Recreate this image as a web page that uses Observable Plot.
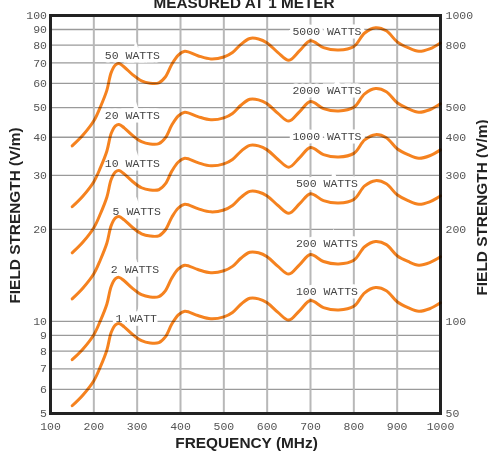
<!DOCTYPE html>
<html>
<head>
<meta charset="utf-8">
<script src="https://cdn.jsdelivr.net/npm/d3@7"></script>
<script src="https://cdn.jsdelivr.net/npm/@observablehq/plot@0.6"></script>
<style>
  html, body { margin: 0; padding: 0; background: #fff; overflow: hidden; }
</style>
</head>
<body>
<div id="chart"></div>
<script>
// Frequencies (MHz) at which curve values were read
const freqs = [150,175,200,215,230,240,250,258,270,290,310,330,350,365,380,395,410,440,470,500,520,540,560,580,600,625,650,675,700,730,765,800,825,850,875,900,925,950,975,1000];

// Field strength (V/m, left-axis scale) for each curve
const w1  = [5.30,5.75,6.40,7.10,8.05,9.20,9.75,9.85,9.60,9.05,8.65,8.50,8.52,8.90,9.80,10.50,10.80,10.45,10.20,10.35,10.70,11.40,11.90,11.85,11.50,10.70,10.10,10.85,11.70,11.10,10.90,11.20,12.40,12.90,12.60,11.60,11.10,10.80,11.00,11.50];
const w2  = [7.50,8.13,9.05,10.04,11.38,13.01,13.79,13.93,13.58,12.80,12.23,12.02,12.05,12.59,13.86,14.85,15.27,14.78,14.43,14.64,15.13,16.12,16.83,16.76,16.26,15.13,14.28,15.34,16.55,15.70,15.41,15.84,17.54,18.24,17.82,16.40,15.70,15.27,15.56,16.26];
const w5  = [11.85,12.86,14.31,15.88,18.00,20.57,21.80,22.03,21.47,20.24,19.34,19.01,19.05,19.90,21.91,23.48,24.15,23.37,22.81,23.14,23.93,25.49,26.61,26.50,25.72,23.93,22.58,24.26,26.16,24.82,24.37,25.04,27.73,28.85,28.17,25.94,24.82,24.15,24.60,25.72];
const w10 = [16.76,18.18,20.24,22.45,25.46,29.09,30.83,31.15,30.36,28.62,27.35,26.88,26.94,28.14,30.99,33.20,34.15,33.05,32.26,32.73,33.84,36.05,37.63,37.47,36.37,33.84,31.94,34.31,37.00,35.10,34.47,35.42,39.21,40.79,39.84,36.68,35.10,34.15,34.79,36.37];
const w20 = [23.70,25.71,28.62,31.75,36.00,41.14,43.60,44.05,42.93,40.47,38.68,38.01,38.10,39.80,43.83,46.96,48.30,46.73,45.62,46.29,47.85,50.98,53.22,52.99,51.43,47.85,45.17,48.52,52.32,49.64,48.75,50.09,55.45,57.69,56.35,51.88,49.64,48.30,49.19,51.43];
const w50 = [37.48,40.66,45.26,50.20,56.92,65.05,68.94,69.65,67.88,63.99,61.17,60.10,60.25,62.93,69.30,74.25,76.37,73.89,72.13,73.19,75.66,80.61,84.15,83.79,81.32,75.66,71.42,76.72,82.73,78.49,77.08,79.20,87.68,91.22,89.10,82.02,78.49,76.37,77.78,81.32];

const seriesKeys = ["1/100","2/200","5/500","10/1000","20/2000","50/5000"];
const seriesValues = [w1, w2, w5, w10, w20, w50];

// Curve labels (left-axis power on the left, right-axis power on the right)
const leftLabels  = ["50 WATTS","20 WATTS","10 WATTS","5 WATTS","2 WATTS","1 WATT"];
const leftLabelX  = [289, 289, 289, 299, 295, 298];
const leftLabelY  = [74.3, 47.2, 32.8, 22.9, 14.83, 10.26];
const rightLabels = ["5000 WATTS","2000 WATTS","1000 WATTS","500 WATTS","200 WATTS","100 WATTS"];
const rightLabelX = [738, 738, 738, 738, 738, 738];
const rightLabelY = [88.7, 57.1, 40.2, 28.2, 18.03, 12.51];

// Axis ticks
const xTicks = [100,200,300,400,500,600,700,800,900,1000];
const yTicksLeft = [5,6,7,8,9,10,20,30,40,50,60,70,80,90,100];
const yTicksRight = [50,100,200,300,400,500,800,1000];   // right axis = left axis x 10
const gridY = [6,7,8,9,10,20,30,40,50,60,70,80,90];
const gridX = [200,300,400,500,600,700,800,900];

const titleText = "MEASURED AT 1 METER";
const xLabel = "FREQUENCY (MHz)";
const yLabel = "FIELD STRENGTH (V/m)";

const rows = [];
seriesValues.forEach((vals, i) => vals.forEach((v, j) => rows.push({f: freqs[j], v, s: seriesKeys[i]})));
const labelsL = leftLabels.map((t, i) => ({t, x: leftLabelX[i], y: leftLabelY[i]}));
const labelsR = rightLabels.map((t, i) => ({t, x: rightLabelX[i], y: rightLabelY[i]}));

const mono = "'Liberation Mono', 'DejaVu Sans Mono', monospace";
const sans = "'Liberation Sans', Arial, sans-serif";

const chart = Plot.plot({
  width: 488,
  height: 453,
  marginTop: 15,
  marginRight: 48,
  marginBottom: 40,
  marginLeft: 50,
  style: {fontFamily: mono, fontSize: "11.5px", color: "#555", background: "#fff", overflow: "visible"},
  x: {domain: [100, 1000], axis: null},
  y: {type: "log", domain: [5, 100], axis: null},
  marks: [
    Plot.ruleY(gridY, {stroke: "#9a9a9a", strokeWidth: 1.3}),
    Plot.ruleX(gridX, {stroke: "#b8b8b8", strokeWidth: 2}),
    Plot.text(labelsL, {x: "x", y: "y", text: "t", fontFamily: mono, fontSize: 11.5, fill: "#444", stroke: "#fff", strokeWidth: 7, strokeLinejoin: "miter"}),
    Plot.text(labelsR, {x: "x", y: "y", text: "t", fontFamily: mono, fontSize: 11.5, fill: "#444", stroke: "#fff", strokeWidth: 7, strokeLinejoin: "miter"}),
    Plot.frame({stroke: "#222", strokeWidth: 3}),
    Plot.line(rows, {x: "f", y: "v", z: "s", stroke: "#f5821f", strokeWidth: 3, curve: "catmull-rom", mixBlendMode: "multiply"}),
    Plot.text(xTicks, {x: d => d, text: d => String(d), frameAnchor: "bottom", lineAnchor: "top", dy: 8, fontFamily: mono, fontSize: 11.5, fill: "#555"}),
    Plot.text(yTicksLeft, {y: d => d, text: d => String(d), frameAnchor: "left", textAnchor: "end", dx: -3.5, fontFamily: mono, fontSize: 11.5, fill: "#555"}),
    Plot.text(yTicksRight, {y: d => d / 10, text: d => String(d), frameAnchor: "right", textAnchor: "start", dx: 5, fontFamily: mono, fontSize: 11.5, fill: "#555"}),
    Plot.text([titleText], {frameAnchor: "top", textAnchor: "middle", lineAnchor: "bottom", dy: -8, dx: -1.5, fontFamily: sans, fontWeight: "bold", fontSize: 15.3, fill: "#222"}),
    Plot.text([xLabel], {frameAnchor: "bottom", textAnchor: "middle", lineAnchor: "bottom", dy: 34.5, dx: 1, fontFamily: sans, fontWeight: "bold", fontSize: 15.4, fill: "#222"}),
    Plot.text([yLabel], {frameAnchor: "left", textAnchor: "middle", rotate: -90, dx: -35, dy: 1, fontFamily: sans, fontWeight: "bold", fontSize: 15.4, fill: "#222"}),
    Plot.text([yLabel], {frameAnchor: "right", textAnchor: "middle", rotate: -90, dx: 41.5, dy: -7, fontFamily: sans, fontWeight: "bold", fontSize: 15.4, fill: "#222"})
  ]
});
document.getElementById("chart").appendChild(chart);
</script>
</body>
</html>
